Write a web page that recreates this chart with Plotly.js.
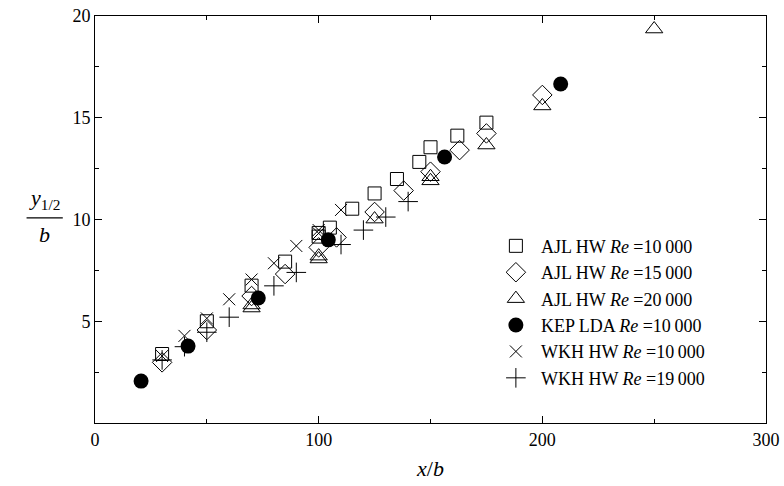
<!DOCTYPE html>
<html>
<head>
<meta charset="utf-8">
<script src="https://cdn.plot.ly/plotly-3.0.1.min.js"></script>
<style>html,body{margin:0;padding:0;background:#fff;}#chart{width:784px;height:486px;}</style>
</head>
<body>
<div id="chart"></div>
<script>
// AJL HW Re=10000 (open squares)
const ajl10_x = [30, 50, 70, 85, 100, 100, 105, 115, 125, 135, 145, 150, 162, 175];
const ajl10_y = [3.39, 5.0, 6.75, 7.93, 9.16, 9.34, 9.6, 10.53, 11.28, 11.99, 12.83, 13.55, 14.12, 14.76];
// AJL HW Re=15000 (open diamonds)
const ajl15_x = [30, 50, 70, 85, 100, 108, 125, 138, 150, 163, 175, 200];
const ajl15_y = [2.98, 4.57, 6.24, 7.32, 8.63, 9.12, 10.37, 11.42, 12.35, 13.41, 14.23, 16.12];
// AJL HW Re=20000 (open triangles)
const ajl20_x = [70, 70, 100, 100, 125, 150, 150, 175, 200, 250];
const ajl20_y = [5.65, 5.8, 8.06, 8.2, 10.02, 11.9, 12.1, 13.66, 15.58, 19.36];
// KEP LDA Re=10000 (filled circles)
const kep_x = [20.6, 41.6, 73, 104.3, 156.3, 208.2];
const kep_y = [2.06, 3.78, 6.14, 9.0, 13.07, 16.66];
// WKH HW Re=10000 (crosses x)
const wkh10_x = [30, 40, 50, 60, 70, 80, 90, 100, 100, 110];
const wkh10_y = [3.29, 4.28, 5.14, 6.08, 7.05, 7.85, 8.7, 9.32, 9.48, 10.47];
// WKH HW Re=19000 (plus)
const wkh19_x = [30, 40, 50, 60, 80, 90, 110, 120, 130, 140];
const wkh19_y = [3.1, 3.75, 4.46, 5.2, 6.74, 7.4, 8.77, 9.48, 10.12, 10.88];

const names = [
  'AJL HW <i>Re</i> =10\u2009000',
  'AJL HW <i>Re</i> =15\u2009000',
  'AJL HW <i>Re</i> =20\u2009000',
  'KEP LDA <i>Re</i> =10\u2009000',
  'WKH HW <i>Re</i> =10\u2009000',
  'WKH HW <i>Re</i> =19\u2009000'
];

const line = {color: '#000', width: 1};
const traces = [
  {x: ajl10_x, y: ajl10_y, name: names[0], mode: 'markers', type: 'scatter',
   marker: {symbol: 'square-open', size: 13, color: '#000', line: line}},
  {x: ajl15_x, y: ajl15_y, name: names[1], mode: 'markers', type: 'scatter',
   marker: {symbol: 'diamond-open', size: 15, color: '#000', line: line}},
  {x: ajl20_x, y: ajl20_y, name: names[2], mode: 'markers', type: 'scatter',
   marker: {symbol: 'triangle-up-open', size: 15, color: '#000', line: line}},
  {x: kep_x, y: kep_y, name: names[3], mode: 'markers', type: 'scatter',
   marker: {symbol: 'circle', size: 15, color: '#000', line: {color: '#000', width: 0}}},
  {x: wkh10_x, y: wkh10_y, name: names[4], mode: 'markers', type: 'scatter',
   marker: {symbol: 'x-thin-open', size: 12, color: '#000', line: line}},
  {x: wkh19_x, y: wkh19_y, name: names[5], mode: 'markers', type: 'scatter',
   marker: {symbol: 'cross-thin-open', size: 14, color: '#000', line: line}}
];

const serif = 'Liberation Serif, Times New Roman, serif';
const layout = {
  width: 784, height: 486,
  margin: {l: 95, r: 18, t: 16, b: 63},
  paper_bgcolor: '#fff', plot_bgcolor: '#fff',
  font: {family: serif, size: 18, color: '#000'},
  showlegend: true,
  legend: {x: 0.59, y: 0.48, xanchor: 'left', yanchor: 'top', bgcolor: 'rgba(0,0,0,0)',
           font: {family: serif, size: 18, color: '#000'}, itemwidth: 40, tracegroupgap: 0},
  xaxis: {
    range: [0, 300], tickmode: 'array', tickvals: [0, 100, 200, 300],
    ticks: 'inside', ticklen: 7, tickwidth: 1, tickcolor: '#000',
    showline: true, linecolor: '#000', linewidth: 1, mirror: 'ticks',
    showgrid: false, zeroline: false,
    minor: {tickmode: 'array', tickvals: [50, 150, 250], ticks: 'inside', ticklen: 4, tickcolor: '#000', showgrid: false},
    tickfont: {family: serif, size: 18},
    title: {text: '<i>x</i>/<i>b</i>', font: {family: serif, size: 22}, standoff: 12}
  },
  yaxis: {
    range: [0, 20], tickmode: 'array', tickvals: [5, 10, 15, 20],
    ticks: 'inside', ticklen: 7, tickwidth: 1, tickcolor: '#000',
    showline: true, linecolor: '#000', linewidth: 1, mirror: 'ticks',
    showgrid: false, zeroline: false,
    minor: {tickmode: 'array', tickvals: [2.5, 7.5, 12.5, 17.5], ticks: 'inside', ticklen: 4, tickcolor: '#000', showgrid: false},
    tickfont: {family: serif, size: 18}
  },
  shapes: [
    {type: 'line', xref: 'paper', yref: 'paper', x0: -0.102, x1: -0.048, y0: 0.504, y1: 0.504,
     line: {color: '#000', width: 1.2}}
  ],
  annotations: [
    {xref: 'paper', yref: 'paper', x: -0.075, y: 0.51, xanchor: 'center', yanchor: 'bottom',
     text: '<i>y</i><sub>1/2</sub>', showarrow: false, font: {family: serif, size: 22}},
    {xref: 'paper', yref: 'paper', x: -0.075, y: 0.50, xanchor: 'center', yanchor: 'top',
     text: '<i>b</i>', showarrow: false, font: {family: serif, size: 22}}
  ]
};

Plotly.newPlot('chart', traces, layout, {displayModeBar: false, staticPlot: true});
</script>
</body>
</html>
